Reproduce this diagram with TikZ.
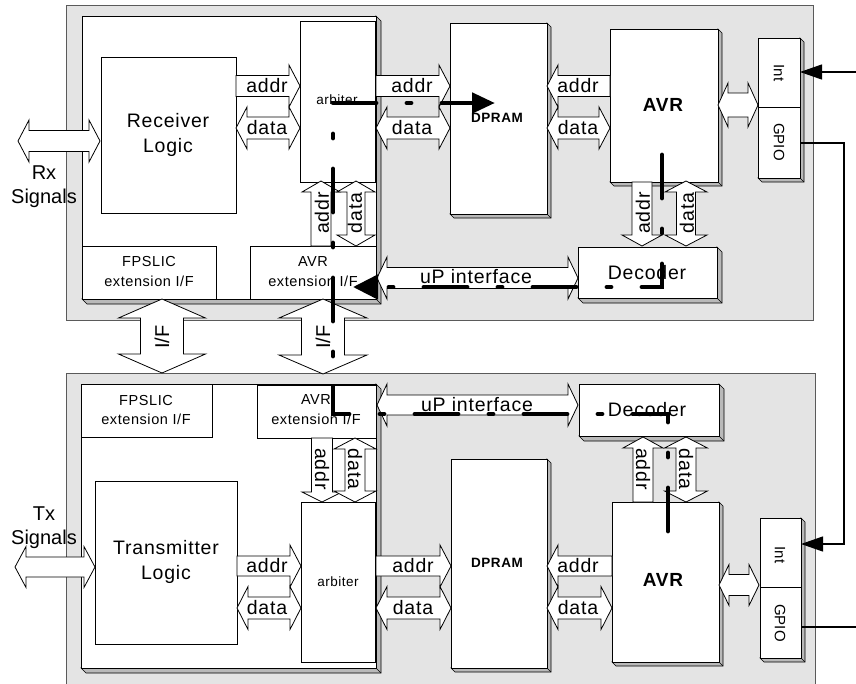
\documentclass[tikz,border=0pt]{standalone}
\usepackage{fontspec}
\setmainfont{Liberation Sans}
\newfontfamily\lsp[LetterSpace=4]{Liberation Sans}
\usetikzlibrary{arrows.meta}
\definecolor{panelgray}{RGB}{228,228,228}
\definecolor{paneledge}{RGB}{90,90,90}
\definecolor{shadowgray}{RGB}{185,185,185}
% shadow (3D edge) for a box x1 y1 x2 y2 depth
\newcommand{\shadowbox}[5]{%
 \filldraw[shd] (#3,#2) -- ({#3+#5},{#2+#5}) -- ({#3+#5},{#4+#5}) -- ({#1+#5},{#4+#5}) -- (#1,#4) -- (#3,#4) -- cycle;
 \draw[shd] (#3,#4) -- ({#3+#5},{#4+#5});}
% plain named box: name x1 y1 x2 y2
\newcommand{\nbx}[5]{\node[box, minimum width={#4-#2}, minimum height={#5-#3}, anchor=north west] (#1) at (#2,#3) {};}
% double horizontal block arrow: x1 x2 yc shafthalf headhalf headlen
\newcommand{\dblH}[6]{\draw[blk] (#1,#3) -- ({#1+#6},{#3-#5}) -- ({#1+#6},{#3-#4}) -- ({#2-#6},{#3-#4}) -- ({#2-#6},{#3-#5}) -- (#2,#3) -- ({#2-#6},{#3+#5}) -- ({#2-#6},{#3+#4}) -- ({#1+#6},{#3+#4}) -- ({#1+#6},{#3+#5}) -- cycle;}
% double vertical block arrow: y1 y2 xc shafthalf headhalf headlen
\newcommand{\dblV}[6]{\draw[blk] (#3,#1) -- ({#3-#5},{#1+#6}) -- ({#3-#4},{#1+#6}) -- ({#3-#4},{#2-#6}) -- ({#3-#5},{#2-#6}) -- (#3,#2) -- ({#3+#5},{#2-#6}) -- ({#3+#4},{#2-#6}) -- ({#3+#4},{#1+#6}) -- ({#3+#5},{#1+#6}) -- cycle;}
% single horizontal block arrow: tailx tipx yc shafthalf headhalf signed headlen
\newcommand{\sglH}[6]{\draw[blk] (#1,{#3-#4}) -- ({#2-(#6)},{#3-#4}) -- ({#2-(#6)},{#3-#5}) -- (#2,#3) -- ({#2-(#6)},{#3+#5}) -- ({#2-(#6)},{#3+#4}) -- (#1,{#3+#4}) -- cycle;}
% single vertical block arrow: taily tipy xc shafthalf headhalf signed headlen
\newcommand{\sglV}[6]{\draw[blk] ({#3-#4},#1) -- ({#3-#4},{#2-(#6)}) -- ({#3-#5},{#2-(#6)}) -- (#3,#2) -- ({#3+#5},{#2-(#6)}) -- ({#3+#4},{#2-(#6)}) -- ({#3+#4},#1) -- cycle;}
\begin{document}
\begin{tikzpicture}[x=1pt,y=-1pt,
 panel/.style={fill=panelgray, draw=paneledge, line width=1pt},
 box/.style={draw=black, fill=white, line width=0.8pt, inner sep=0pt, outer sep=0pt},
 shd/.style={fill=shadowgray, draw=black, line width=0.6pt, line join=miter},
 blk/.style={draw=black, fill=white, line width=0.8pt, line join=miter},
 big/.style={inner sep=0pt, font=\lsp\fontsize{19.5}{25}\selectfont, align=center},
 bus/.style={inner sep=0pt, font=\lsp\fontsize{19.5}{23}\selectfont},
 small/.style={inner sep=0pt, font=\lsp\fontsize{14.5}{20}\selectfont, align=center},
 arb/.style={inner sep=0pt, font=\lsp\fontsize{13.5}{16}\selectfont},
 dpr/.style={inner sep=0pt, font=\lsp\bfseries\fontsize{13.5}{16}\selectfont},
 avr/.style={inner sep=0pt, font=\lsp\bfseries\fontsize{19}{23}\selectfont},
 io/.style={inner sep=0pt, font=\fontsize{15}{17}\selectfont, rotate=-90},
 sig/.style={inner sep=0pt, font=\fontsize{20}{24}\selectfont, align=center},
 ifl/.style={inner sep=0pt, font=\fontsize{20}{23}\selectfont, rotate=90},
 flow/.style={line width=4.8pt, line cap=round, line join=miter, dash pattern=on 43pt off 31pt on 4pt off 31pt},
 thin/.style={line width=1.2pt}
]
\useasboundingbox (0,0) rectangle (856,683);
\clip (0,0) rectangle (856,683);
\fill[white] (0,0) rectangle (856,683);

% ---------- panels ----------
\draw[panel] (66,5) rectangle (813,320);
\draw[panel] (66,373) rectangle (815,700);

% ---------- top FPGA board ----------
\shadowbox{82}{16}{376}{299}{5}
\nbx{boardT}{82}{16}{376}{299}
\nbx{recv}{101}{57}{236}{213}
\nbx{arbT}{300}{21}{375}{182}
\nbx{fpsT}{82}{246}{216}{299}
\nbx{avrxT}{250}{246}{376}{299}

\shadowbox{450}{23}{547}{214}{4}
\nbx{dpramT}{450}{23}{547}{214}
\shadowbox{610}{29}{718}{182}{4}
\nbx{avrT}{610}{29}{718}{182}
\shadowbox{578}{247}{717}{298}{5}
\nbx{decT}{578}{247}{717}{298}
\shadowbox{758}{38}{800}{178}{4}
\nbx{intT}{758}{38}{800}{107}
\nbx{gpioT}{758}{107}{800}{178}

% ---------- bottom FPGA board ----------
\shadowbox{81}{384}{376}{668}{5}
\nbx{boardB}{81}{384}{376}{668}
\nbx{fpsB}{81}{384}{212}{437}
\nbx{avrxB}{257}{385}{376}{438}
\nbx{arbB}{301}{502}{375}{662}
\nbx{xmit}{95}{481}{237}{644}

\shadowbox{451}{459}{547}{668}{4}
\nbx{dpramB}{451}{459}{547}{668}
\shadowbox{612}{502}{719}{662}{4}
\nbx{avrB}{612}{502}{719}{662}
\shadowbox{579}{384}{719}{436}{5}
\nbx{decB}{579}{384}{719}{436}
\shadowbox{760}{518}{801}{658}{4}
\nbx{intB}{760}{518}{801}{587}
\nbx{gpioB}{760}{587}{801}{658}

% ---------- block arrows, top ----------
\dblH{18}{100}{141}{10.5}{21}{11}
\sglH{236}{300}{86}{10.5}{21}{11}
\dblH{236}{300}{128}{11}{21}{11}
\sglH{376}{450}{86}{10.5}{21}{11}
\dblH{376}{450}{128}{11}{21}{11}
\sglH{610}{547}{86}{10.5}{21}{-11}
\dblH{547}{610}{128}{11}{21}{11}
\dblH{718}{758}{105}{12}{22}{10}
\sglV{246}{181}{321}{10}{19}{-11}
\dblV{181}{246}{356}{9}{19}{11}
\sglV{182}{246}{642}{10}{20}{11}
\dblV{181}{246}{686}{9.5}{21}{11}
\dblH{377}{578}{278}{10.5}{21}{10}
% I/F between boards
\dblV{299}{373}{162}{21.5}{43.5}{19}
\dblV{299}{374}{323}{21.5}{44}{19}

% ---------- block arrows, bottom ----------
\dblH{15}{95}{567}{10}{20.5}{11}
\sglH{237}{301}{566}{10}{21}{11}
\dblH{237}{301}{608}{11}{21.5}{11}
\sglH{376}{451}{566}{10}{21}{11}
\dblH{376}{451}{608}{11}{21.5}{11}
\sglH{612}{547}{566}{10}{21}{-11}
\dblH{547}{612}{608}{11}{21.5}{11}
\dblH{719}{759}{585}{10.5}{20.5}{10}
\sglV{438}{502}{322}{10.5}{20}{10}
\dblV{438}{502}{355}{10}{21}{11}
\sglV{502}{437}{643}{10}{20}{-11}
\dblV{437}{502}{686}{10}{21.5}{11}
\dblH{377}{578}{405}{10}{21}{10}

% ---------- labels, top ----------
\node[sig] (rxl) at (44,187) {Rx\\Signals};
\node[big] (recvl) at (168,135) {Receiver\\Logic};
\node[arb] (arbTl) at (337,100) {arbiter};
\node[small] (fpsTl) at (149,272) {FPSLIC\\extension I/F};
\node[small] (avrxTl) at (313,272) {AVR\\extension I/F};
\node[dpr] (dpramTl) at (497,118) {DPRAM};
\node[avr] (avrTl) at (663,105) {AVR};
\node[big] (decTl) at (647,273) {Decoder};
\node[io] (intTl) at (779,73) {Int};
\node[io] (gpioTl) at (779,142) {GPIO};
\node[bus] (a1) at (267,86) {addr};
\node[bus] (d1) at (267,128) {data};
\node[bus] (a2) at (412,86) {addr};
\node[bus] (d2) at (412,128) {data};
\node[bus] (a3) at (578,86) {addr};
\node[bus] (d3) at (578,128) {data};
\node[bus, rotate=90] (a4) at (322,213) {addr};
\node[bus, rotate=90] (d4) at (355,213) {data};
\node[bus, rotate=90] (a5) at (643,213) {addr};
\node[bus, rotate=90] (d5) at (687,213) {data};
\node[big] (upT) at (476,277) {uP interface};
\node[ifl] (if1) at (162,337) {I/F};
\node[ifl] (if2) at (323,337) {I/F};

% ---------- labels, bottom ----------
\node[sig] (txl) at (44,528) {Tx\\Signals};
\node[big] (xmitl) at (166,562) {Transmitter\\Logic};
\node[arb] (arbBl) at (338,582) {arbiter};
\node[small] (fpsBl) at (146,410) {FPSLIC\\extension I/F};
\node[small] (avrxBl) at (316,410) {AVR\\extension I/F};
\node[dpr] (dpramBl) at (497,563) {DPRAM};
\node[avr] (avrBl) at (663,580) {AVR};
\node[big] (decBl) at (647,410) {Decoder};
\node[io] (intBl) at (780,555) {Int};
\node[io] (gpioBl) at (780,623) {GPIO};
\node[bus] (a6) at (267,566) {addr};
\node[bus] (d6) at (267,608) {data};
\node[bus] (a7) at (413,566) {addr};
\node[bus] (d7) at (413,608) {data};
\node[bus] (a8) at (578,566) {addr};
\node[bus] (d8) at (578,608) {data};
\node[bus, rotate=-90] (a9) at (322,469) {addr};
\node[bus, rotate=-90] (d9) at (355,469) {data};
\node[bus, rotate=-90] (a10) at (643,469) {addr};
\node[bus, rotate=-90] (d10) at (686,469) {data};
\node[big] (upB) at (477,405) {uP interface};

% ---------- interrupt / GPIO wiring ----------
\coordinate (extIn) at (856,72);
\coordinate (wireC) at (844,143);
\coordinate (intBin) at (801,544);
\coordinate (extOut) at (856,627);
\draw[thin, -{Triangle[length=22pt,width=15pt]}] (extIn) -- (intT.east |- extIn);
\draw[thin, -{Triangle[length=22pt,width=15pt]}] (gpioT.east |- wireC) -- (wireC) |- (intBin);
\draw[thin] (gpioB.east |- extOut) -- (extOut);

% ---------- thick dashed data flows ----------
\coordinate (fA1) at (668,531);
\coordinate (fA2) at (668,414);
\coordinate (fA3) at (333,414);
\coordinate (fA4) at (333,103);
\coordinate (fA5) at (495,103);
\draw[flow, -{Triangle[length=23pt,width=20pt]}] (fA1) -- (fA2) -- (fA3) -- (fA4) -- (fA5);
\coordinate (fB1) at (662,155);
\coordinate (fB2) at (662,287);
\coordinate (fB3) at (353,287);
\draw[flow, -{Triangle[length=25pt,width=24pt]}] (fB1) -- (fB2) -- (fB3);
\end{tikzpicture}
\end{document}
